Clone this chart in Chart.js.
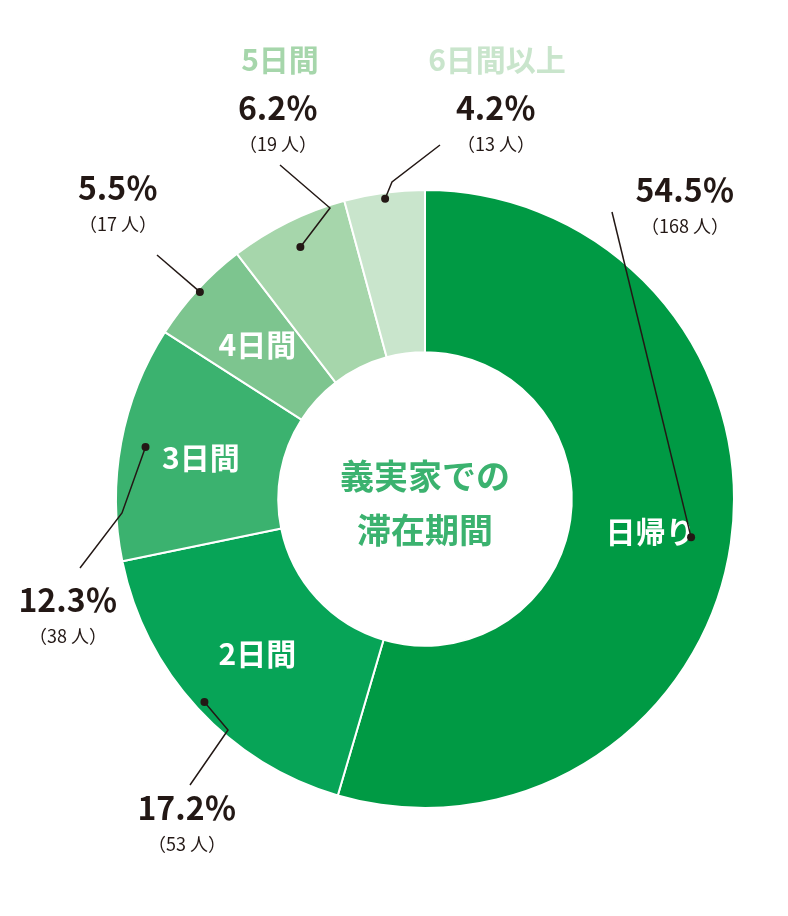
<!DOCTYPE html>
<html><head><meta charset="utf-8">
<script src="https://cdn.jsdelivr.net/npm/chart.js@4"></script>
<style>body{margin:0;background:#fff}</style>
</head><body>
<canvas id="c" width="788" height="916"></canvas>
<script>
// データ
const categories = ['日帰り', '2日間', '3日間', '4日間', '5日間', '6日間以上'];
const percents = [54.5, 17.2, 12.3, 5.5, 6.2, 4.2];
const people = [168, 53, 38, 17, 19, 13];
const colors = ['#009a44', '#07a457', '#3bb26f', '#7dc58f', '#a6d6ab', '#c9e5cc'];

// ラベル配置（ドット半径比、折れ点、テキスト位置）
const labelPos = [
  { r: 0.87, pts: [[612, 212]], x: 685, y: 190 },
  { r: 0.97, pts: [[228, 730], [190, 785]], x: 187, y: 808 },
  { r: 0.92, pts: [[122, 513], [80, 568]], x: 68, y: 600 },
  { r: 0.99, pts: [[157, 255]], x: 118, y: 188 },
  { r: 0.91, pts: [[330, 208], [280, 165]], x: 278, y: 108 },
  { r: 0.98, pts: [[392, 182], [440, 145]], x: 496, y: 108 }
];
const insideLabels = [true, true, true, true, false, false];

const labelPlugin = {
  id: 'labels',
  afterDraw(chart) {
    const ctx = chart.ctx;
    const arcs = chart.getDatasetMeta(0).data;
    ctx.save();
    ctx.textAlign = 'center';
    ctx.textBaseline = 'middle';
    arcs.forEach((arc, i) => {
      const mid = (arc.startAngle + arc.endAngle) / 2;
      const cx = arc.x, cy = arc.y;
      if (insideLabels[i]) {
        const rr = (arc.innerRadius + arc.outerRadius) / 2;
        ctx.fillStyle = '#fff';
        ctx.font = 'bold 30px "Noto Sans CJK JP"';
        ctx.fillText(categories[i], cx + Math.cos(mid) * rr, cy + Math.sin(mid) * rr);
      }
      const lp = labelPos[i];
      const dx = cx + Math.cos(mid) * arc.outerRadius * lp.r;
      const dy = cy + Math.sin(mid) * arc.outerRadius * lp.r;
      ctx.strokeStyle = '#231815';
      ctx.fillStyle = '#231815';
      ctx.lineWidth = 1.5;
      ctx.beginPath();
      ctx.moveTo(dx, dy);
      lp.pts.forEach(p => ctx.lineTo(p[0], p[1]));
      ctx.stroke();
      ctx.beginPath();
      ctx.arc(dx, dy, 4, 0, Math.PI * 2);
      ctx.fill();
      ctx.font = 'bold 32px "Noto Sans CJK JP"';
      ctx.fillText(percents[i] + '％', lp.x, lp.y);
      ctx.font = '18px "Noto Sans CJK JP"';
      ctx.fillText('（' + people[i] + ' 人）', lp.x, lp.y + 36);
    });
    // 上部の見出し
    ctx.font = 'bold 30px "Noto Sans CJK JP"';
    ctx.fillStyle = colors[4];
    ctx.fillText(categories[4], 280, 60);
    ctx.fillStyle = colors[5];
    ctx.fillText(categories[5], 497, 60);
    // 中央テキスト
    ctx.fillStyle = '#3bb26f';
    ctx.font = 'bold 34px "Noto Sans CJK JP"';
    ctx.fillText('義実家での', 425, 476);
    ctx.fillText('滞在期間', 425, 530);
    ctx.restore();
  }
};

new Chart(document.getElementById('c'), {
  type: 'doughnut',
  data: {
    labels: categories,
    datasets: [{
      data: percents,
      backgroundColor: colors,
      borderColor: '#fff',
      borderWidth: 2
    }]
  },
  options: {
    responsive: false,
    animation: false,
    cutout: '47.5%',
    layout: { padding: { left: 115, right: 53, top: 189, bottom: 107 } },
    plugins: { legend: { display: false }, tooltip: { enabled: false } }
  },
  plugins: [labelPlugin]
});
</script>
</body></html>
